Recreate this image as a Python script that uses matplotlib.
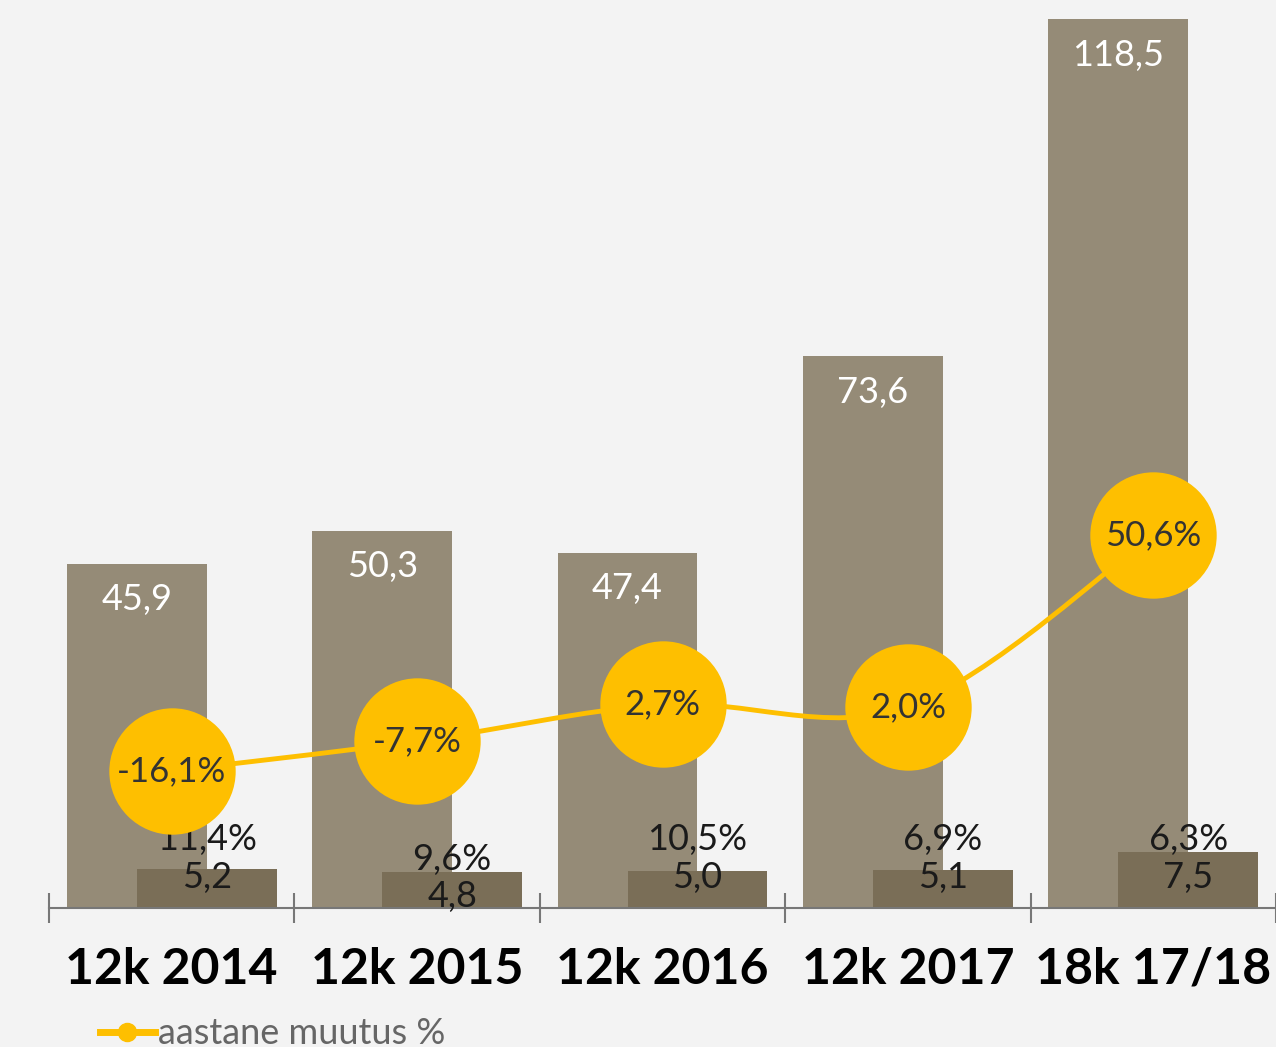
import matplotlib
matplotlib.use("Agg")
import matplotlib.pyplot as plt
from matplotlib.path import Path
from matplotlib.patches import PathPatch
import numpy as np

categories = ["12k 2014", "12k 2015", "12k 2016", "12k 2017", "18k 17/18"]
big_values = [45.9, 50.3, 47.4, 73.6, 118.5]
small_values = [5.2, 4.8, 5.0, 5.1, 7.5]
small_pct_labels = ["11,4%", "9,6%", "10,5%", "6,9%", "6,3%"]
change_pct = [-16.1, -7.7, 2.7, 2.0, 50.6]
legend_label = "aastane muutus %"

def fmt(v):
    return f"{v:.1f}".replace(".", ",")

BG = "#F3F3F3"
BIG = "#958B77"
SMALL = "#7A6E57"
YEL = "#FEBF00"
FONT = "Lato"

plt.rcParams["font.family"] = [FONT, "DejaVu Sans"]

fig = plt.figure(figsize=(12.76, 10.47), dpi=100, facecolor=BG)
ax = fig.add_axes([49/1276, 139/1047, 1227/1276, 900/1047])
ax.set_facecolor(BG)
ax.patch.set_alpha(0)

x = np.arange(len(categories))
w = 0.57
off = 0.1426
ax.bar(x - off, big_values, width=w, color=BIG, zorder=1)
ax.bar(x + off, small_values, width=w, color=SMALL, zorder=2)
ax.set_xlim(-0.5, len(categories) - 0.5)
ax.set_ylim(0, 120)

for s in ["top", "right", "left"]:
    ax.spines[s].set_visible(False)
ax.spines["bottom"].set_color("#777777")
ax.spines["bottom"].set_linewidth(1.5)
ax.set_yticks([])
ax.set_xticks(np.arange(-0.5, len(categories) + 0.5, 1.0))
ax.set_xticklabels([])
ax.tick_params(axis="x", direction="inout", length=22, width=1.5, color="#777777")

# category labels
for i, c in enumerate(categories):
    ax.text(i, -0.068, c, transform=ax.get_xaxis_transform(), ha="center", va="center",
            fontsize=36, fontweight="bold", color="black")

# big bar value labels (white, inside top)
for i, v in enumerate(big_values):
    ax.annotate(fmt(v), (i - off, v), xytext=(0, -26), textcoords="offset points",
                ha="center", va="center", fontsize=26, color="white", zorder=5)

# small bar value labels and pct labels
for i, (v, p) in enumerate(zip(small_values, small_pct_labels)):
    ax.annotate(fmt(v), (i + off, 0), xytext=(0, 22 + (-14 if i == 1 else 0)),
                textcoords="offset points", ha="center", va="center",
                fontsize=26, color="#1a1a1a", zorder=5)
    ax.annotate(p, (i + off, 0), xytext=(0, 49 + (-14 if i == 1 else 0)),
                textcoords="offset points", ha="center", va="center",
                fontsize=26, color="#1a1a1a", zorder=5)

# secondary axis for change line
ax2 = ax.twinx()
ax2.set_ylim(-54.83, 199.5)
ax2.axis("off")

# smooth line (Catmull-Rom as cubic bezier)
pts = np.column_stack([x, change_pct]).astype(float)
verts = [tuple(pts[0])]
codes = [Path.MOVETO]
n = len(pts)
for i in range(n - 1):
    p0 = pts[i - 1] if i > 0 else pts[i]
    p1 = pts[i]
    p2 = pts[i + 1]
    p3 = pts[i + 2] if i + 2 < n else pts[i + 1]
    c1 = p1 + (p2 - p0) / 6.0
    c2 = p2 - (p3 - p1) / 6.0
    verts += [tuple(c1), tuple(c2), tuple(p2)]
    codes += [Path.CURVE4] * 3
ax2.add_patch(PathPatch(Path(verts, codes), facecolor="none", edgecolor=YEL, lw=3.5, zorder=3))
ax2.plot(x, change_pct, linestyle="none", marker="o", markersize=91, color=YEL,
         markeredgewidth=0, zorder=4)
for xi, v in zip(x, change_pct):
    ax2.text(xi, v, fmt(v) + "%", ha="center", va="center", fontsize=25,
             color="#333333", zorder=6)

# legend
fig.lines.append(plt.Line2D([100/1276, 155/1276], [15/1047, 15/1047], color=YEL, lw=5,
                            transform=fig.transFigure))
fig.lines.append(plt.Line2D([127/1276], [15/1047], color=YEL, marker="o", markersize=13,
                            transform=fig.transFigure))
fig.text(158/1276, 14/1047, legend_label, ha="left", va="center", fontsize=26, color="#666666")

fig.savefig("out.png", dpi=100, facecolor=BG)
